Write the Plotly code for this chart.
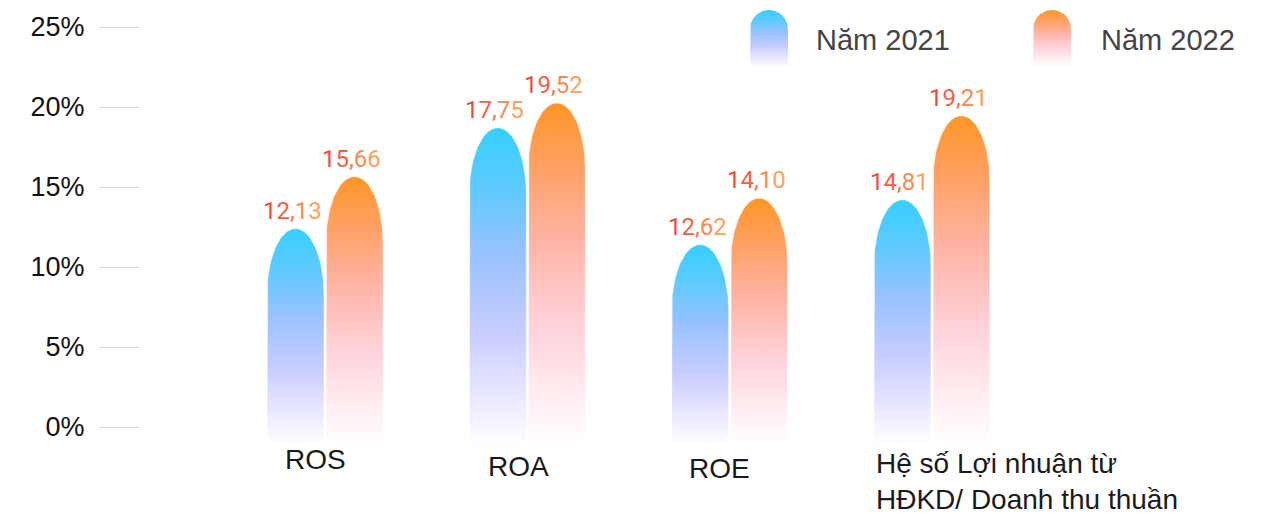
import numpy as np
import plotly.graph_objects as go

# ---------------- data ----------------
categories = ["ROS", "ROA", "ROE", "Hệ số Lợi nhuận từ<br>HĐKD/ Doanh thu thuần"]
series_names = ["Năm 2021", "Năm 2022"]
bar_2021 = [12.4, 18.7, 11.4, 14.2]       # bar heights (%)
bar_2022 = [15.65, 20.25, 14.3, 19.45]
label_2021 = ["12,13", "17,75", "12,62", "14,81"]
label_2022 = ["15,66", "19,52", "14,10", "19,21"]
y_ticks = [0, 5, 10, 15, 20, 25]
y_tick_labels = ["0%", "5%", "10%", "15%", "20%", "25%"]

# ---------------- style / geometry ----------------
W, H = 1272, 514
ML, MR, MT, MB = 140, 0, 10, 0
PX_X = 202.3           # pixels per category
PX_Y = 16.0            # pixels per 1 %
X0_PX = 325            # pixel centre of first category
Y0_PX = 427            # pixel of 0 %
x_range = [(ML - X0_PX) / PX_X, (W - MR - X0_PX) / PX_X]
y_range = [-(H - MB - Y0_PX) / PX_Y, (Y0_PX - MT) / PX_Y]

bar_w = 57 / PX_X
gap = 1 / PX_X
bar_bottom = -1.1
cap_h = 66 / PX_Y      # height of elliptic cap, in data units

blue_scale = [[0.0, "rgba(255,255,255,1)"], [0.12, "#eeecff"], [0.35, "#c9cdff"],
              [0.6, "#98c2ff"], [0.82, "#5ccaff"], [1.0, "#36cfff"]]
orange_scale = [[0.0, "rgba(255,255,255,1)"], [0.12, "#fff0f3"], [0.35, "#ffd2da"],
                [0.6, "#ffb3a4"], [0.82, "#ffa062"], [1.0, "#ff9626"]]
scales = [blue_scale, orange_scale]


def bullet(x_left, x_right, top, bottom, cap):
    cx = (x_left + x_right) / 2
    rx = (x_right - x_left) / 2
    cap = min(cap, top - bottom)
    t = np.linspace(np.pi, 0, 60)
    xs = [x_left] + list(cx + rx * np.cos(t)) + [x_right, x_left]
    ys = [bottom] + list(top - cap + cap * np.sin(t)) + [bottom, bottom]
    return xs, ys


def grad_text(s, c0=(240, 74, 58), c1=(255, 160, 90)):
    n = len(s)
    out = []
    for i, ch in enumerate(s):
        f = i / max(n - 1, 1)
        c = tuple(int(round(a + (b - a) * f)) for a, b in zip(c0, c1))
        out.append('<span style="color:rgb(%d,%d,%d)">%s</span>' % (c + (ch,)))
    return "".join(out)


fig = go.Figure()
annotations = []

for s, (heights, labels) in enumerate([(bar_2021, label_2021), (bar_2022, label_2022)]):
    for i, (h, lab) in enumerate(zip(heights, labels)):
        if s == 0:
            xl, xr = i - gap - bar_w, i - gap
        else:
            xl, xr = i + gap, i + gap + bar_w
        xs, ys = bullet(xl, xr, h, bar_bottom, cap_h)
        fig.add_trace(go.Scatter(
            x=xs, y=ys, mode="lines", fill="toself",
            line=dict(width=0.6, color="rgba(255,255,255,0.7)"),
            fillgradient=dict(type="vertical", colorscale=scales[s],
                              start=bar_bottom, stop=h),
            hoverinfo="skip", showlegend=False))
        annotations.append(dict(
            x=(xl + xr) / 2, y=h, xref="x", yref="y", text=grad_text(lab),
            showarrow=False, yanchor="middle", yshift=18, xshift=-3,
            font=dict(family="Roboto", size=24)))

# legend icons (pixel overlay axes: x in px, y = -px from top)
leg_icons = [(750, 788), (1033, 1071)]
leg_top, leg_bottom = 10, 67
leg_text_x = [814, 1099]
for s, (l, r) in enumerate(leg_icons):
    xs, ys = bullet(l, r, -leg_top, -leg_bottom, 19)
    fig.add_trace(go.Scatter(
        x=xs, y=ys, xaxis="x2", yaxis="y2", mode="lines", fill="toself",
        line=dict(width=0),
        fillgradient=dict(type="vertical", colorscale=scales[s],
                          start=-leg_bottom, stop=-leg_top),
        hoverinfo="skip", showlegend=False))
    annotations.append(dict(
        x=(leg_text_x[s] - ML) / (W - ML - MR), y=1 - (40 - MT) / (H - MT - MB),
        xref="paper", yref="paper", text=series_names[s], showarrow=False,
        xanchor="left", yanchor="middle",
        font=dict(family="Liberation Sans, Arial", size=29, color="#444444")))

# category labels
cat_pos = [(-10, 459, "center"), (-9, 466, "center"), (-10, 468, "center"),
           (-58, 481, "left")]
for i, (cat, (dx, ypx, anc)) in enumerate(zip(categories, cat_pos)):
    annotations.append(dict(
        x=i, y=1 - (ypx - MT) / (H - MT - MB), xref="x", yref="paper",
        xshift=dx, text=cat, showarrow=False, xanchor=anc, yanchor="middle",
        align="left",
        font=dict(family="Liberation Sans, Arial", size=28, color="#1a1a1a")))

fig.update_layout(
    width=W, height=H,
    margin=dict(l=ML, r=MR, t=MT, b=MB, pad=0),
    plot_bgcolor="white", paper_bgcolor="white",
    showlegend=False,
    xaxis=dict(range=x_range, visible=False, fixedrange=True),
    yaxis=dict(range=y_range, tickvals=y_ticks, ticktext=y_tick_labels,
               ticks="outside", ticklen=40, tickcolor="#d6d6d6", tickwidth=1,
               ticklabelstandoff=9, showgrid=False, zeroline=False,
               showline=False,
               tickfont=dict(family="Liberation Sans, Arial", size=27, color="#111111")),
    xaxis2=dict(range=[ML, W - MR], overlaying="x", visible=False),
    yaxis2=dict(range=[-(H - MB), -MT], overlaying="y", visible=False),
    annotations=annotations,
)

fig.write_html("out.html")
